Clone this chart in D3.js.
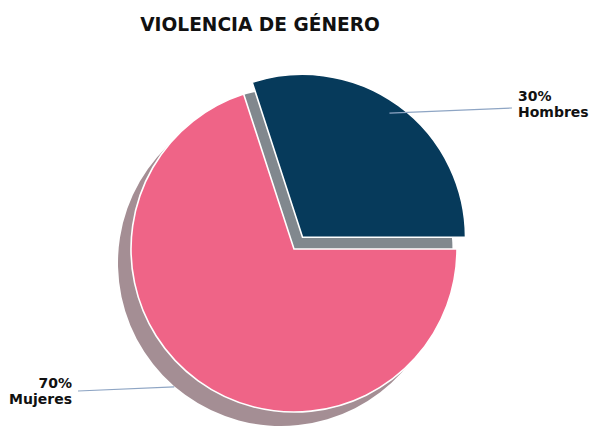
<!DOCTYPE html>
<html>
<head>
<meta charset="utf-8">
<script src="https://cdn.jsdelivr.net/npm/d3@7"></script>
<style>
  body { margin: 0; background: #fff; }
  svg { display: block; font-family: "DejaVu Sans", sans-serif; }
</style>
</head>
<body>
<div id="chart"></div>
<script>
// data
const title = "VIOLENCIA DE GÉNERO";
const categories = ["Mujeres", "Hombres"];
const values = [70, 30];
const colors = ["#ef6487", "#063a5b"];
const shadowColors = ["#a48e94", "#81888e"];
const explode = [0, 14.5];

var width = 592, height = 429;
var cx = 294, cy = 249, radius = 163;
var shadowDx = -13, shadowDy = 14;

var svg = d3.select("#chart")
    .append("svg")
    .attr("width", width)
    .attr("height", height);

// title
svg.append("text")
    .attr("x", 260)
    .attr("y", 31)
    .attr("text-anchor", "middle")
    .attr("font-size", "18.6px")
    .attr("font-weight", "bold")
    .attr("fill", "#111")
    .text(title);

var total = d3.sum(values);
var pct = function (v) { return Math.round(v / total * 100) + "%"; };

// pie starts at 3 o'clock and goes clockwise
var pie = d3.pie()
    .sort(null)
    .startAngle(Math.PI / 2)
    .endAngle(Math.PI / 2 + 2 * Math.PI);

var arcs = pie(values).map(function (d, i) {
    var mid = (d.startAngle + d.endAngle) / 2;
    d.name = categories[i];
    d.ox = cx + Math.sin(mid) * explode[i];
    d.oy = cy - Math.cos(mid) * explode[i];
    return d;
});

var arc = d3.arc().innerRadius(0).outerRadius(radius);

// shadows underneath all wedges
svg.append("g").selectAll("path")
    .data(arcs)
    .enter()
    .append("path")
    .attr("transform", function (d) { return "translate(" + (d.ox + shadowDx) + "," + (d.oy + shadowDy) + ")"; })
    .attr("d", arc)
    .attr("fill", function (d, i) { return shadowColors[i]; });

// wedges
svg.append("g").selectAll("path")
    .data(arcs)
    .enter()
    .append("path")
    .attr("transform", function (d) { return "translate(" + d.ox + "," + d.oy + ")"; })
    .attr("d", arc)
    .attr("fill", function (d, i) { return colors[i]; })
    .attr("stroke", "#fff")
    .attr("stroke-width", 1.6)
    .attr("stroke-linejoin", "miter");

// label placement (pointer angle in degrees clockwise from north, radius factor)
var labelPos = {
    "Mujeres": { ang: 221, rf: 1.12, lx: 78, ly: 391, tx: 72, ty: 388, anchor: "end" },
    "Hombres": { ang: 35, rf: 0.93, lx: 512, ly: 108, tx: 518, ty: 101, anchor: "start" }
};

arcs.forEach(function (d) {
    var p = labelPos[d.name];
    var a = p.ang * Math.PI / 180;
    var px = d.ox + Math.sin(a) * radius * p.rf;
    var py = d.oy - Math.cos(a) * radius * p.rf;

    svg.append("line")
        .attr("x1", p.lx).attr("y1", p.ly)
        .attr("x2", px).attr("y2", py)
        .attr("stroke", "#8ea5c4")
        .attr("stroke-width", 1.2);

    var t = svg.append("text")
        .attr("x", p.tx)
        .attr("y", p.ty)
        .attr("text-anchor", p.anchor)
        .attr("font-size", "14px")
        .attr("font-weight", "bold")
        .attr("fill", "#111");
    t.append("tspan").attr("x", p.tx).text(pct(d.data));
    t.append("tspan").attr("x", p.tx).attr("dy", 16).text(d.name);
});
</script>
</body>
</html>
